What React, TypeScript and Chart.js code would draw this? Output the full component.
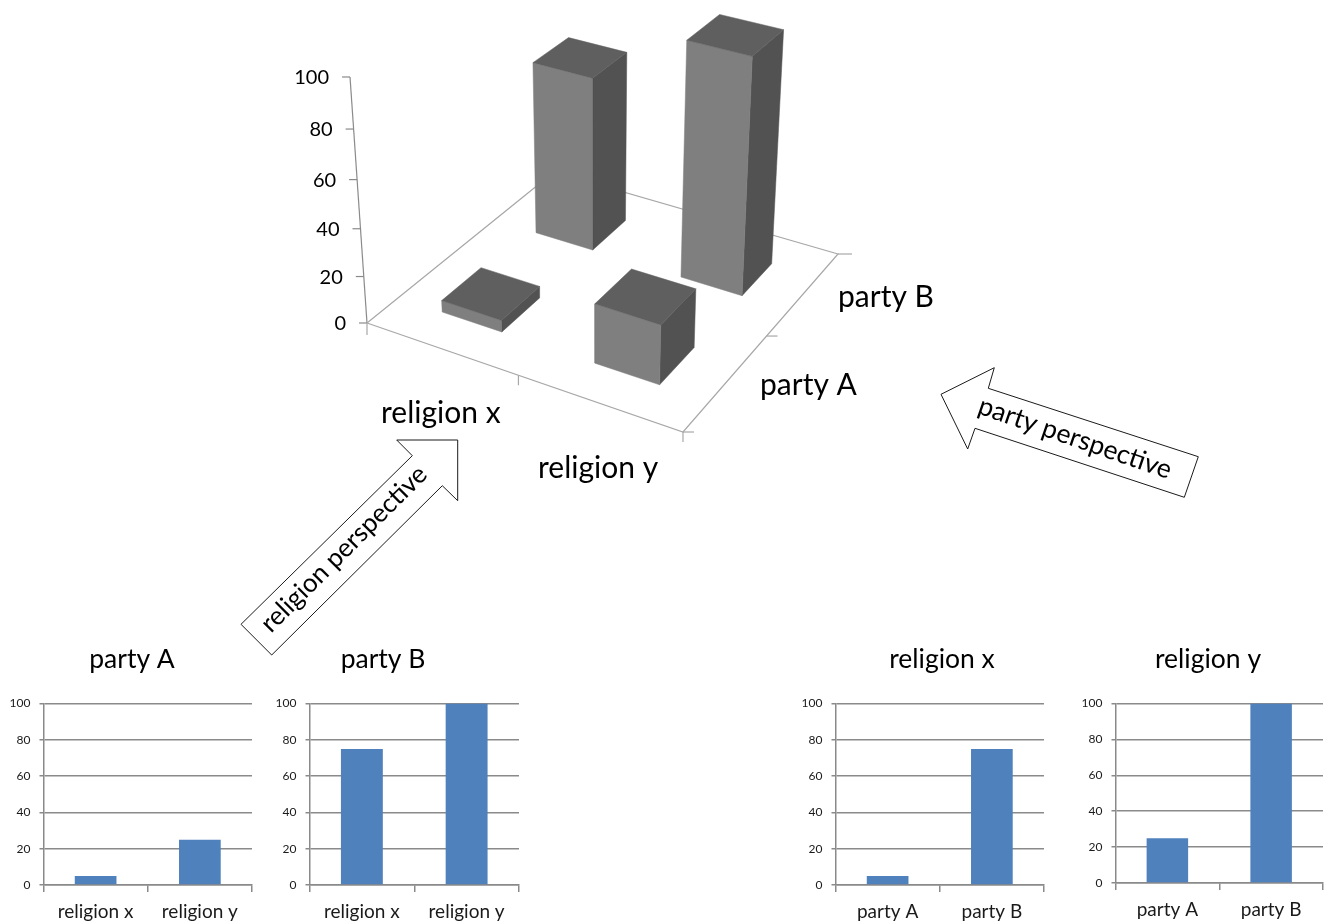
import React, { useEffect, useRef } from "react";
import { Chart, registerables } from "chart.js";

Chart.register(...registerables);

// Values shown by the charts
const religions = ["religion x", "religion y"];
const parties = ["party A", "party B"];
const partyAValues = [5, 25];
const partyBValues = [75, 100];
const religionXValues = [5, 75];
const religionYValues = [25, 100];
const valueTicks = [0, 20, 40, 60, 80, 100];

const LABEL_FONT = "Lato, Carlito, sans-serif";
const AXIS_GREY = "#8a8a8a";
const FLOOR_GREY = "#a8a8a8";
const BAR_BLUE = "#4f81bd";
const FACE_FRONT = "#7f7f7f";
const FACE_TOP = "#5f5f5f";
const FACE_SIDE = "#525252";

type Pt = { x: number; y: number };

// Floor of the 3D plot, as a homography from the unit square to screen space.
const floorCorners = [
  [367, 323],
  [683, 432],
  [838, 254],
  [554, 172],
];
function buildFloor() {
  const [[x0, y0], [x1, y1], [x2, y2], [x3, y3]] = floorCorners;
  const dx1 = x1 - x2, dx2 = x3 - x2, sx = x0 - x1 + x2 - x3;
  const dy1 = y1 - y2, dy2 = y3 - y2, sy = y0 - y1 + y2 - y3;
  const den = dx1 * dy2 - dx2 * dy1;
  const g = (sx * dy2 - dx2 * sy) / den;
  const h = (dx1 * sy - sx * dy1) / den;
  return {
    a: x1 - x0 + g * x1, b: x3 - x0 + h * x3, c: x0,
    d: y1 - y0 + g * y1, e: y3 - y0 + h * y3, f: y0,
    g, h,
  };
}
const floor = buildFloor();
const VERTICAL_VANISH = [598, 3670];
const HEIGHT_SCALE = -0.06847 / 100;

// s runs along the religion axis, t along the party axis, v is the bar height.
function project(s: number, t: number, v: number): Pt {
  const k = v * HEIGHT_SCALE;
  const X = floor.a * s + floor.b * t + floor.c + k * VERTICAL_VANISH[0];
  const Y = floor.d * s + floor.e * t + floor.f + k * VERTICAL_VANISH[1];
  const W = floor.g * s + floor.h * t + 1 + k;
  return { x: X / W, y: Y / W };
}

function faceDataset(points: Pt[], color: string) {
  return {
    data: [...points, points[0]],
    showLine: true,
    fill: "shape",
    backgroundColor: color,
    borderColor: color,
    borderWidth: 0.5,
    pointRadius: 0,
    tension: 0,
  };
}

function lineDataset(points: Pt[], color = FLOOR_GREY, width = 1.2) {
  return {
    data: points,
    showLine: true,
    fill: false,
    borderColor: color,
    borderWidth: width,
    pointRadius: 0,
    tension: 0,
  };
}

function barFaces(religion: number, party: number, value: number) {
  const s0 = (religion + 0.3) / 2, s1 = (religion + 0.7) / 2;
  const t0 = (party + 0.3) / 2, t1 = (party + 0.7) / 2;
  return [
    faceDataset([project(s0, t0, value), project(s1, t0, value), project(s1, t1, value), project(s0, t1, value)], FACE_TOP),
    faceDataset([project(s0, t0, 0), project(s1, t0, 0), project(s1, t0, value), project(s0, t0, value)], FACE_FRONT),
    faceDataset([project(s1, t0, 0), project(s1, t1, 0), project(s1, t1, value), project(s1, t0, value)], FACE_SIDE),
  ];
}

function shift(p: Pt, dx: number, dy: number): Pt {
  return { x: p.x + dx, y: p.y + dy };
}

function axisDatasets() {
  const o = project(0, 0, 0);
  const r = project(1, 0, 0);
  const b = project(1, 1, 0);
  const l = project(0, 1, 0);
  const midFront = project(0.5, 0, 0);
  const midSide = project(1, 0.5, 0);
  const sets = [
    lineDataset([o, r, b, l, o]),
    lineDataset([project(0, 0, 0), project(0, 0, 100)], AXIS_GREY),
    lineDataset([o, shift(o, 0, 12)]),
    lineDataset([midFront, shift(midFront, 0, 10)]),
    lineDataset([r, shift(r, 0, 10)]),
    lineDataset([r, shift(r, 11, 0)]),
    lineDataset([midSide, shift(midSide, 11, 0)]),
    lineDataset([b, shift(b, 14, 0)]),
  ];
  valueTicks.forEach((v) => {
    const p = project(0, 0, v);
    sets.push(lineDataset([p, shift(p, -8, 0)], AXIS_GREY));
  });
  return sets;
}

function drawArrow(ctx: CanvasRenderingContext2D, outline: number[][]) {
  ctx.beginPath();
  outline.forEach(([x, y], i) => (i ? ctx.lineTo(x, y) : ctx.moveTo(x, y)));
  ctx.closePath();
  ctx.fillStyle = "#ffffff";
  ctx.fill();
  ctx.strokeStyle = "#1a1a1a";
  ctx.lineWidth = 1;
  ctx.stroke();
}

function drawRotated(ctx: CanvasRenderingContext2D, text: string, x: number, y: number, degrees: number, size: number) {
  ctx.save();
  ctx.translate(x, y);
  ctx.rotate((degrees * Math.PI) / 180);
  ctx.font = `${size}px ${LABEL_FONT}`;
  ctx.fillStyle = "#000000";
  ctx.textAlign = "center";
  ctx.textBaseline = "middle";
  ctx.fillText(text, 0, 0);
  ctx.restore();
}

const annotations = {
  id: "annotations",
  afterDatasetsDraw(chart: Chart) {
    const ctx = chart.ctx;
    ctx.save();
    ctx.textBaseline = "middle";
    ctx.fillStyle = "#000000";

    ctx.font = `20px ${LABEL_FONT}`;
    ctx.textAlign = "right";
    valueTicks.forEach((v) => {
      const p = project(0, 0, v);
      ctx.fillText(String(v), p.x - 21, p.y + 1);
    });

    ctx.font = `30px ${LABEL_FONT}`;
    ctx.textAlign = "left";
    ctx.fillText(parties[1], 838, 297);
    ctx.fillText(parties[0], 760, 385);
    ctx.fillText(religions[0], 381, 413);
    ctx.fillText(religions[1], 538, 468);

    drawArrow(ctx, [[241, 624.3], [412.3, 455.7], [396.7, 440], [457.7, 440], [457.7, 500.7], [442.3, 485.7], [271.7, 655]]);
    drawArrow(ctx, [[941, 394.3], [994.3, 367.7], [988.3, 388.3], [1198.3, 456.7], [1184.3, 497.3], [975, 428.3], [967.7, 449]]);
    drawRotated(ctx, "religion perspective", 344, 549, -45, 26);
    drawRotated(ctx, "party perspective", 1075, 438, 19, 26.5);
    ctx.restore();
  },
};

function PerspectivePlot() {
  const ref = useRef<HTMLCanvasElement>(null);
  useEffect(() => {
    const chart = new Chart(ref.current!, {
      type: "scatter",
      data: {
        datasets: [
          // listed nearest first: the first dataset ends up on top
          ...barFaces(0, 0, partyAValues[0]),
          ...barFaces(1, 0, partyAValues[1]),
          ...barFaces(1, 1, partyBValues[1]),
          ...barFaces(0, 1, partyBValues[0]),
          ...axisDatasets(),
        ] as any,
      },
      options: {
        animation: false,
        responsive: false,
        layout: { padding: 0 },
        plugins: { legend: { display: false }, tooltip: { enabled: false } },
        scales: {
          x: { type: "linear", min: 0, max: 1326, display: false },
          y: { type: "linear", min: 0, max: 923, reverse: true, display: false },
        },
      },
      plugins: [annotations],
    });
    return () => chart.destroy();
  }, []);
  return <canvas ref={ref} width={1326} height={923} style={{ position: "absolute", left: 0, top: 0 }} />;
}

type Panel = {
  title: string;
  labels: string[];
  values: number[];
  titleCenter: number;
  plot: { left: number; right: number; top: number; bottom: number };
};

function SmallBars({ title, labels, values, titleCenter, plot }: Panel) {
  const ref = useRef<HTMLCanvasElement>(null);
  const canvasLeft = Math.floor(plot.left) - 43;
  const canvasRight = Math.ceil(plot.right) + 3;
  const canvasTop = 640;
  const canvasBottom = 923;

  useEffect(() => {
    const panelTitle = {
      id: "panelTitle",
      afterDraw(chart: Chart) {
        const ctx = chart.ctx;
        ctx.save();
        ctx.font = `26.5px ${LABEL_FONT}`;
        ctx.fillStyle = "#000000";
        ctx.textAlign = "center";
        ctx.textBaseline = "middle";
        ctx.fillText(title, titleCenter - canvasLeft, 659 - canvasTop);
        ctx.restore();
      },
    };
    const chart = new Chart(ref.current!, {
      type: "bar",
      data: {
        labels,
        datasets: [{ data: values, backgroundColor: BAR_BLUE, borderWidth: 0, barPercentage: 0.4, categoryPercentage: 1 }],
      },
      options: {
        animation: false,
        responsive: false,
        layout: { padding: { left: 0, top: plot.top - canvasTop, bottom: 0, right: canvasRight - plot.right } },
        plugins: { legend: { display: false }, tooltip: { enabled: false } },
        scales: {
          x: {
            grid: { drawOnChartArea: false, color: AXIS_GREY, lineWidth: 1.5, tickLength: 7 },
            border: { color: AXIS_GREY, width: 1.5 },
            ticks: { color: "#1a1a1a", font: { family: LABEL_FONT, size: 19 }, padding: 8, maxRotation: 0, autoSkip: false },
            afterFit: (scale: any) => { scale.height = canvasBottom - plot.bottom; },
          },
          y: {
            min: 0,
            max: 100,
            grid: { color: AXIS_GREY, lineWidth: 1.5, tickLength: 4 },
            border: { color: AXIS_GREY, width: 1.5 },
            ticks: { stepSize: 20, color: "#1a1a1a", font: { family: LABEL_FONT, size: 12 }, padding: 9 },
            afterFit: (scale: any) => { scale.width = plot.left - canvasLeft; },
          },
        },
      },
      plugins: [panelTitle],
    });
    return () => chart.destroy();
  }, []);

  return (
    <canvas
      ref={ref}
      width={canvasRight - canvasLeft}
      height={canvasBottom - canvasTop}
      style={{ position: "absolute", left: canvasLeft, top: canvasTop }}
    />
  );
}

export default function App() {
  return (
    <div style={{ position: "absolute", left: 0, top: 0, width: 1326, height: 923, overflow: "hidden", background: "#ffffff" }}>
      <PerspectivePlot />
      <SmallBars title={parties[0]} labels={religions} values={partyAValues} titleCenter={132}
        plot={{ left: 43.5, right: 252, top: 703.5, bottom: 885 }} />
      <SmallBars title={parties[1]} labels={religions} values={partyBValues} titleCenter={383}
        plot={{ left: 309.5, right: 519, top: 703.5, bottom: 885 }} />
      <SmallBars title={religions[0]} labels={parties} values={religionXValues} titleCenter={942}
        plot={{ left: 835.5, right: 1044, top: 703.5, bottom: 885 }} />
      <SmallBars title={religions[1]} labels={parties} values={religionYValues} titleCenter={1208}
        plot={{ left: 1115.5, right: 1323, top: 703.5, bottom: 883 }} />
    </div>
  );
}
